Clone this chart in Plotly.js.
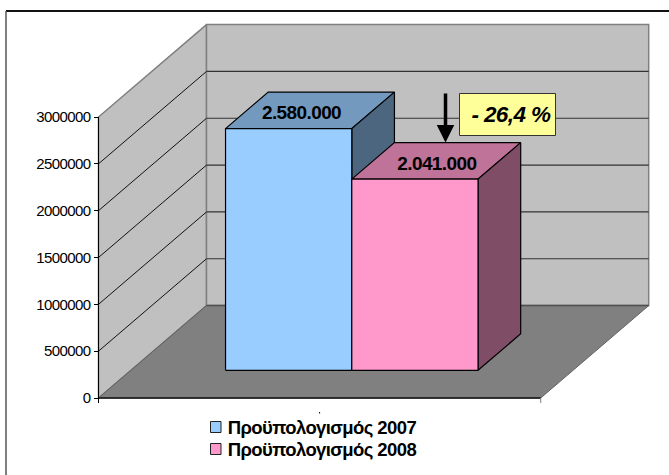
<!DOCTYPE html>
<html><head><meta charset="utf-8">
<script src="https://cdn.plot.ly/plotly-3.0.1.min.js"></script>
<style>html,body{margin:0;padding:0;background:#fff}#c{width:669px;height:475px}
#c svg text{letter-spacing:-0.6px}</style>
</head><body><div id="c"></div>
<script>
var seriesNames = ['Προϋπολογισμός 2007', 'Προϋπολογισμός 2008'];
var seriesValues = [2580000, 2041000];
var valueLabels = ['2.580.000', '2.041.000'];
var tickValues = [0, 500000, 1000000, 1500000, 2000000, 2500000, 3000000];
var changeLabel = '- 26,4 %';

var W = 669, H = 475;
var FONT = '"Liberation Sans", Arial, sans-serif';
var faceColors = [
  {front: '#99CCFF', top: '#7399BF', side: '#4D6680'},
  {front: '#FF99CC', top: '#BF7399', side: '#804D66'}
];
// axis calibration
var x0 = 98.5, x1 = 540.7, y0 = 398, y3 = 117;
var pxPerX = x1 - x0, pxPerV = (y0 - y3) / 3000000;
var DX = 108 / pxPerX, DV = 92.4 / pxPerV;
function X(f, d) { return f + d * DX; }
function Y(v, d) { return v + d * DV; }

var traces = [];
function poly(pts, fill, lineColor, lineWidth) {
  var xs = pts.map(function (p) { return X(p[0], p[2]); });
  var ys = pts.map(function (p) { return Y(p[1], p[2]); });
  xs.push(xs[0]); ys.push(ys[0]);
  traces.push({type: 'scatter', mode: 'lines', x: xs, y: ys, fill: 'toself', fillcolor: fill,
    line: {color: lineColor, width: lineWidth}, hoverinfo: 'skip', showlegend: false});
}
function line(pts, color, width) {
  traces.push({type: 'scatter', mode: 'lines',
    x: pts.map(function (p) { return X(p[0], p[2]); }),
    y: pts.map(function (p) { return Y(p[1], p[2]); }),
    line: {color: color, width: width}, hoverinfo: 'skip', showlegend: false});
}
var vMax = tickValues[tickValues.length - 1];
// walls and floor
poly([[0, 0, 0], [0, vMax, 0], [0, vMax, 1], [0, 0, 1]], '#C0C0C0', '#808080', 1.5);
poly([[0, 0, 1], [0, vMax, 1], [1, vMax, 1], [1, 0, 1]], '#C0C0C0', '#808080', 1.5);
poly([[0, 0, 0], [0, 0, 1], [1, 0, 1], [1, 0, 0]], '#808080', '#606060', 1);
// gridlines
tickValues.forEach(function (v) {
  if (v === 0 || v === vMax) return;
  line([[0, v, 0], [0, v, 1]], '#111111', 1);
  line([[0, v, 1], [1, v, 1]], '#333333', 1.2);
});
line([[0, 0, 1], [1, 0, 1]], '#505050', 1.5);
// bars
var gap = 0.214, bw = 0.2855, d0 = 0.3, d1 = 0.695;
seriesValues.forEach(function (v, i) {
  var a = gap + i * bw, b = a + bw, c = faceColors[i];
  poly([[a, v, d0], [a, v, d1], [b, v, d1], [b, v, d0]], c.top, '#000', 1.2);
  poly([[b, 0, d0], [b, v, d0], [b, v, d1], [b, 0, d1]], c.side, '#000', 1.2);
  poly([[a, 0, d0], [a, v, d0], [b, v, d0], [b, 0, d0]], c.front, '#000', 1.2);
});
// value axis line and category axis
line([[0, 0, 0], [0, vMax, 0]], '#000', 1);
line([[0, 0, 0], [1, 0, 0]], '#111', 1.5);
[0, 1].forEach(function (f) {
  line([[f, 0, 0], [f, -5 / pxPerV, 0]], f ? '#808080' : '#000', 1);
});
line([[0.5, -14 / pxPerV, 0], [0.5, -15.5 / pxPerV, 0]], '#000', 1);
// value labels on the top faces
var labelF = [0.348, 0.654], labelD = 0.455;
traces.push({type: 'scatter', mode: 'text',
  x: labelF.map(function (f) { return X(f, labelD); }),
  y: seriesValues.map(function (v) { return Y(v, labelD); }),
  text: valueLabels, textposition: 'middle center',
  textfont: {family: FONT, size: 19, color: '#000', weight: 700},
  hoverinfo: 'skip', showlegend: false});

function paperX(px) { return px / W; }
function paperY(py) { return 1 - py / H; }

var legendTop = [427, 449];
var shapes = [
  {type: 'line', xref: 'paper', yref: 'paper', x0: paperX(6), x1: paperX(669), y0: paperY(11), y1: paperY(11), line: {color: '#111', width: 2}},
  {type: 'line', xref: 'paper', yref: 'paper', x0: paperX(6), x1: paperX(6), y0: paperY(11), y1: paperY(475), line: {color: '#555', width: 1.5}}
];
var annotations = [];
seriesNames.forEach(function (n, i) {
  var yc = legendTop[i];
  shapes.push({type: 'rect', xref: 'paper', yref: 'paper', x0: paperX(210.5), x1: paperX(221), y0: paperY(yc - 5.5), y1: paperY(yc + 5.5),
    fillcolor: faceColors[i].front, line: {color: '#222', width: 1}});
  annotations.push({xref: 'paper', yref: 'paper', x: paperX(220), y: paperY(yc), xanchor: 'left', yanchor: 'middle',
    text: n, showarrow: false, font: {family: FONT, size: 18.5, color: '#000', weight: 700}});
});
// callout box
shapes.push({type: 'rect', xref: 'paper', yref: 'paper', x0: paperX(459.5), x1: paperX(555.5), y0: paperY(93.5), y1: paperY(135.5),
  fillcolor: '#FFFF99', line: {color: '#333', width: 1}});
// arrow from 2007 level to 2008 level, along the back edge of the bars
var arrowF = 0.615;
annotations.push({xref: 'x', yref: 'y', axref: 'x', ayref: 'y',
  x: X(arrowF, d1), y: Y(seriesValues[1], d1),
  ax: X(arrowF, d1), ay: Y(seriesValues[0], d1),
  text: '', showarrow: true, arrowhead: 2, arrowsize: 1, arrowwidth: 3.5, arrowcolor: '#000', standoff: 0});
annotations.push({xref: 'paper', yref: 'paper', x: paperX(511), y: paperY(114.5), xanchor: 'center', yanchor: 'middle',
  text: '<b><i>' + changeLabel + '</i></b>', showarrow: false,
  font: {family: FONT, size: 22.5, color: '#000'}});

var layout = {
  width: W, height: H, margin: {l: 0, r: 0, t: 0, b: 0, pad: 0},
  paper_bgcolor: '#fff', plot_bgcolor: 'rgba(0,0,0,0)', showlegend: false,
  font: {family: FONT, color: '#000'},
  xaxis: {range: [-x0 / pxPerX, (W - x0) / pxPerX], visible: false, fixedrange: true},
  yaxis: {range: [(y0 - H) / pxPerV, y0 / pxPerV], anchor: 'free', position: x0 / W, side: 'left',
    tickmode: 'array', tickvals: tickValues, ticktext: tickValues.map(String),
    ticks: 'outside', ticklen: 5, tickwidth: 1, tickcolor: '#000', showgrid: false, zeroline: false, showline: false,
    tickfont: {family: FONT, size: 15, color: '#000'}, fixedrange: true},
  shapes: shapes, annotations: annotations
};
Plotly.newPlot('c', traces, layout, {displayModeBar: false, staticPlot: true});
</script></body></html>
